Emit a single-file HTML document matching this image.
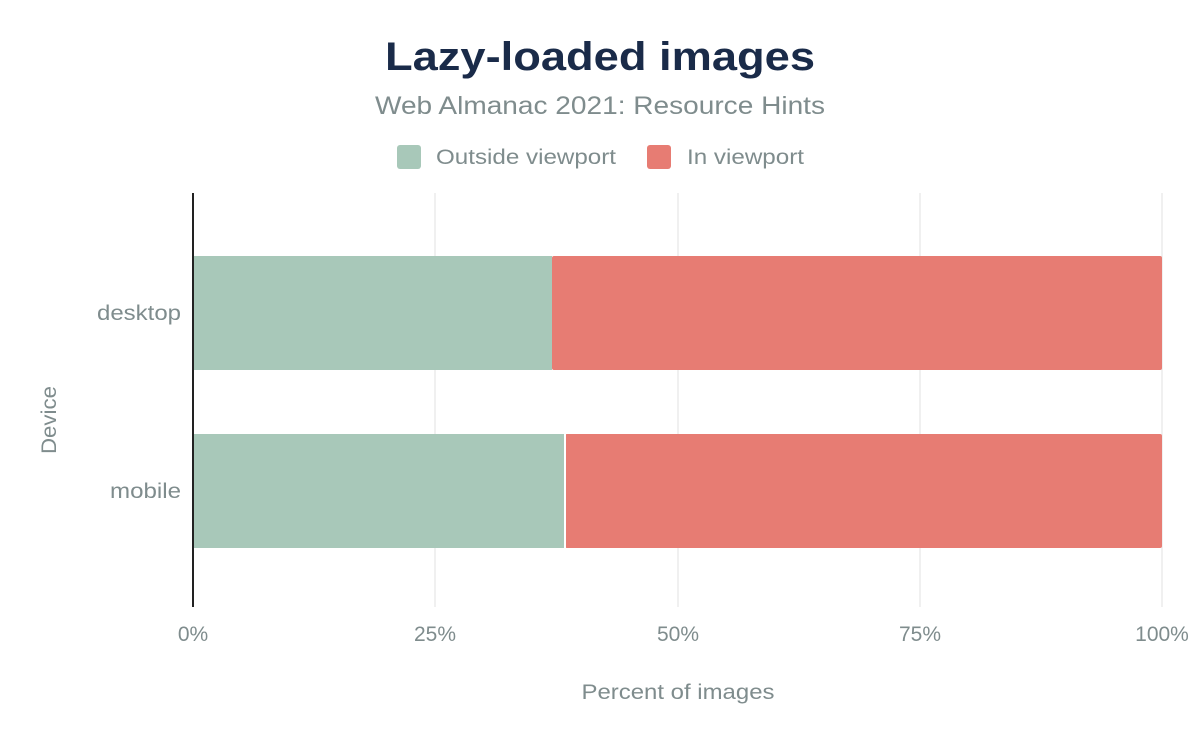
<!DOCTYPE html>
<html><head><meta charset="utf-8"><style>
body{margin:0;background:#fff;width:1200px;height:742px;overflow:hidden;font-family:"Liberation Sans",sans-serif}
</style></head><body>
<svg width="1200" height="742" xmlns="http://www.w3.org/2000/svg" font-family="Liberation Sans, sans-serif">
<rect width="1200" height="742" fill="#fff"/>
<text x="600" y="70" text-anchor="middle" font-size="40" font-weight="bold" fill="#1a2b49" textLength="430" lengthAdjust="spacingAndGlyphs">Lazy-loaded images</text>
<text x="600" y="114" text-anchor="middle" font-size="25" fill="#7f8c8d" textLength="450" lengthAdjust="spacingAndGlyphs">Web Almanac 2021: Resource Hints</text>
<rect x="397" y="145" width="24" height="24" rx="3" fill="#a8c8b9"/>
<text x="436" y="164" font-size="21" fill="#7f8c8d" textLength="180" lengthAdjust="spacingAndGlyphs">Outside viewport</text>
<rect x="647" y="145" width="24" height="24" rx="3" fill="#e77c73"/>
<text x="687" y="164" font-size="21" fill="#7f8c8d" textLength="117" lengthAdjust="spacingAndGlyphs">In viewport</text>
<g stroke="#ececec" stroke-width="1.5">
<line x1="435" y1="193" x2="435" y2="607"/><line x1="678" y1="193" x2="678" y2="607"/>
<line x1="920" y1="193" x2="920" y2="607"/><line x1="1162" y1="193" x2="1162" y2="607"/>
</g>
<rect x="193" y="256" width="359" height="114" fill="#a8c8b9"/>
<rect x="552" y="256" width="610" height="114" rx="2" fill="#e77c73"/>
<rect x="193" y="434" width="372" height="114" fill="#a8c8b9"/>
<rect x="565" y="434" width="597" height="114" rx="2" fill="#e77c73"/>
<line x1="565" y1="434" x2="565" y2="548" stroke="#fff" stroke-width="2"/>
<line x1="193" y1="193" x2="193" y2="607" stroke="#222" stroke-width="2"/>
<g font-size="21" fill="#7f8c8d">
<text x="181" y="320" text-anchor="end" textLength="84" lengthAdjust="spacingAndGlyphs">desktop</text>
<text x="181" y="498" text-anchor="end" textLength="71" lengthAdjust="spacingAndGlyphs">mobile</text>
<text x="193" y="641" text-anchor="middle">0%</text>
<text x="435" y="641" text-anchor="middle">25%</text>
<text x="678" y="641" text-anchor="middle">50%</text>
<text x="920" y="641" text-anchor="middle">75%</text>
<text x="1162" y="641" text-anchor="middle">100%</text>
<text x="678" y="699" text-anchor="middle" textLength="193" lengthAdjust="spacingAndGlyphs">Percent of images</text>
<text transform="translate(56,420) rotate(-90)" text-anchor="middle" textLength="68" lengthAdjust="spacingAndGlyphs">Device</text>
</g>
</svg>
</body></html>
